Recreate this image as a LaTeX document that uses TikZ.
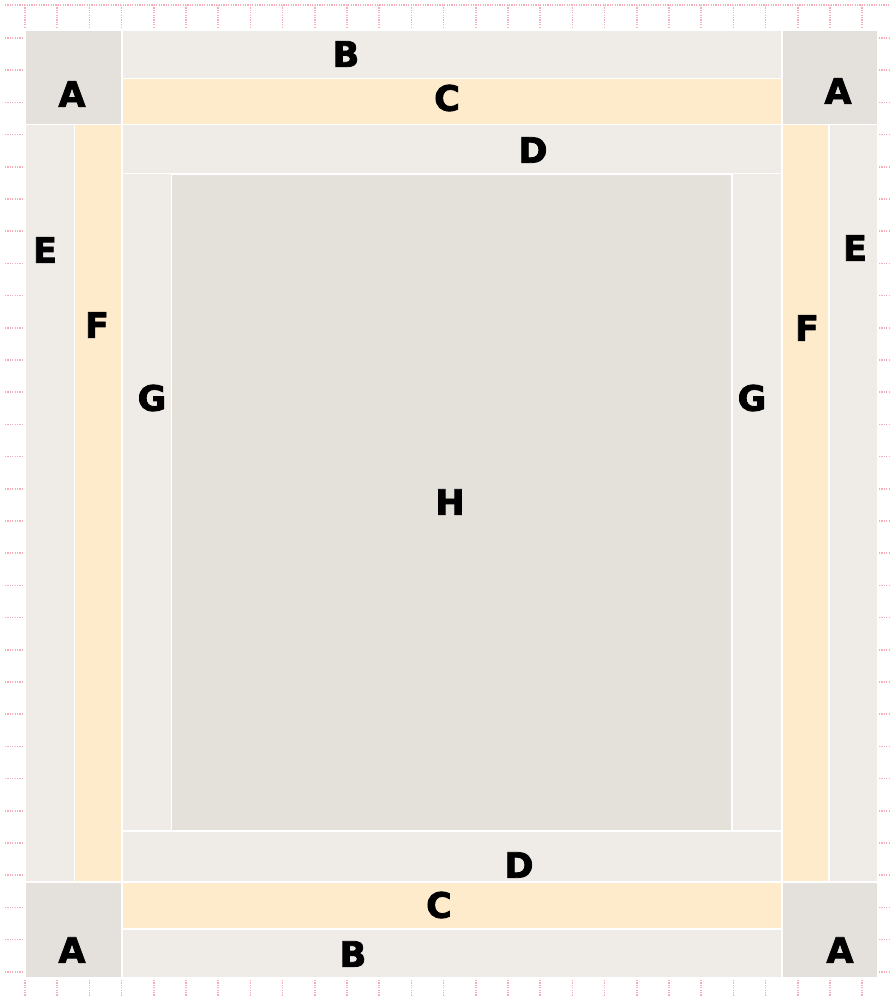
\documentclass[tikz,border=0pt]{standalone}
\usepackage{fontspec}
\newfontfamily\lbl{DejaVu Sans}[BoldFeatures={FakeBold=2.2}]
\definecolor{cA}{HTML}{E4E0DC}
\definecolor{cB}{HTML}{EFEBE6}
\definecolor{cC}{HTML}{FDEBCC}
\definecolor{cH}{HTML}{E4E1DA}
\definecolor{rulc}{HTML}{F5AEB7}
\tikzset{
  zone/.style={draw=white,line width=1.6pt},
  rul/.style={draw=rulc,line width=1.6pt,dash pattern=on 1.2pt off 1.2pt},
  tag/.style={font=\lbl\bfseries\fontsize{35}{35}\selectfont,inner sep=0pt,text=black}
}
\begin{document}
\begin{tikzpicture}[x=1pt,y=-1pt]
\useasboundingbox (0,0) rectangle (890,997);
% ruler
\draw[rul] (5,5) -- (890,5);
\foreach \k in {0,...,26}{
  \draw[rul] ({25+32.2*\k},5) -- ({25+32.2*\k},29);
  \draw[rul] ({25+32.2*\k},980) -- ({25+32.2*\k},997);
}
\foreach \k in {0,...,29}{
  \draw[rul] (5,{38+32.2*\k}) -- (24,{38+32.2*\k});
  \draw[rul] (879,{38+32.2*\k}) -- (890,{38+32.2*\k});
}
% outer
\fill[white] (25,30) rectangle (878,978);
% corners
\filldraw[zone,fill=cA] (25,30) rectangle (122,124.5);
\filldraw[zone,fill=cA] (782,30) rectangle (878,124.5);
\filldraw[zone,fill=cA] (25,882) rectangle (122,978);
\filldraw[zone,fill=cA] (782,882) rectangle (878,978);
% top bands
\filldraw[zone,fill=cB] (122,30) rectangle (782,78.5);
\filldraw[zone,fill=cC] (122,78.5) rectangle (782,124.5);
\filldraw[zone,fill=cB] (122,124.5) rectangle (782,173.5);
% bottom bands
\filldraw[zone,fill=cB] (122,831) rectangle (782,882);
\filldraw[zone,fill=cC] (122,882) rectangle (782,929);
\filldraw[zone,fill=cB] (122,929) rectangle (782,978);
% side columns
\filldraw[zone,fill=cB] (25,124.5) rectangle (74.5,882);
\filldraw[zone,fill=cC] (74.5,124.5) rectangle (122,882);
\filldraw[zone,fill=cB] (829,124.5) rectangle (878,882);
\filldraw[zone,fill=cC] (782,124.5) rectangle (829,882);
\filldraw[zone,fill=cB] (122,173.5) rectangle (171.5,831);
\filldraw[zone,fill=cB] (732,173.5) rectangle (782,831);
% centre
\filldraw[zone,fill=cH] (171.5,174.5) rectangle (732,831);
% labels
\node[tag] (a1) at (72,94) {A};
\node[tag] (a2) at (838,91) {A};
\node[tag] (a3) at (72,950) {A};
\node[tag] (a4) at (840,950) {A};
\node[tag] (b1) at (346,54) {B};
\node[tag] (b2) at (353,954) {B};
\node[tag] (c1) at (447,98) {C};
\node[tag] (c2) at (439,905) {C};
\node[tag] (d1) at (533,150) {D};
\node[tag] (d2) at (519,865) {D};
\node[tag] (e1) at (45,250) {E};
\node[tag] (e2) at (855,248) {E};
\node[tag] (f1) at (97,325) {F};
\node[tag] (f2) at (807,328) {F};
\node[tag] (g1) at (152,398) {G};
\node[tag] (g2) at (752,398) {G};
\node[tag] (h) at (450,502) {H};
\end{tikzpicture}
\end{document}
